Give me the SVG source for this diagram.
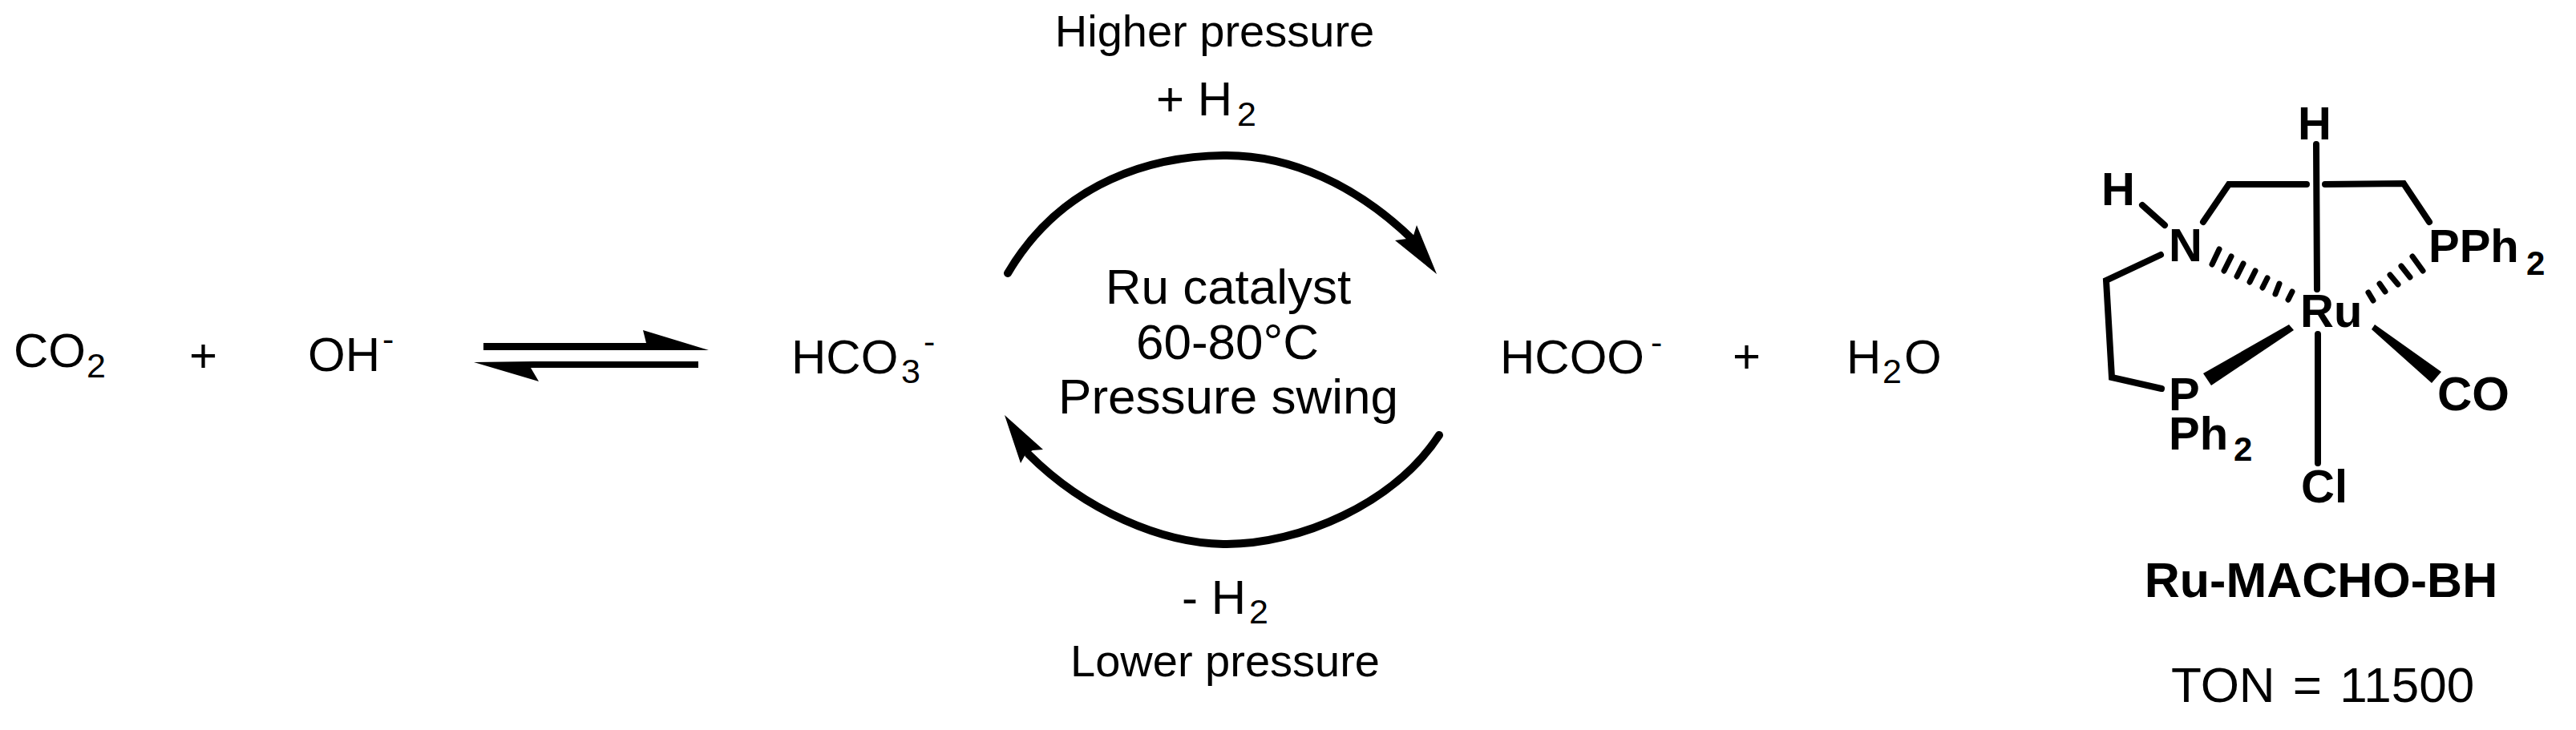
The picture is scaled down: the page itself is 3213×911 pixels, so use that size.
<svg xmlns="http://www.w3.org/2000/svg" width="3213" height="911" viewBox="0 0 3213 911">
<style>
text{font-family:"Liberation Sans",Arial,sans-serif;fill:#000;font-size:60px}
.b{font-weight:700;font-size:58px}
.s{font-size:43px}
.bs{font-weight:700;font-size:42px}
.c{text-anchor:middle}
.m{font-size:62px}
.bond{fill:none;stroke:#000;stroke-width:8;stroke-linecap:round;stroke-linejoin:miter}
.hash{fill:none;stroke:#000;stroke-width:7;stroke-linecap:round}
.arc{fill:none;stroke:#000;stroke-width:10;stroke-linecap:round}
</style>
<rect width="3213" height="911" fill="#fff"/>
<g id="connectors">
<g id="equilibrium">
<polygon points="603,428 806,428 802,412 884,437 603,437"/>
<polygon points="871,451 665,451 591,452 672,476 662,459 871,459"/>
</g>
<path class="arc" d="M1257 341C1325 225 1440 194 1530 194C1610 194 1692 231 1762 299"/>
<polygon points="1792,342 1767,281 1762,297 1740,300"/>
<path class="arc" d="M1795 543C1738 630 1620 679 1530 679C1450 679 1353 637 1283 567"/>
<polygon points="1253,518 1301,561 1288,562 1279,567 1273,578"/>
</g>
<g id="co2"><text x="17" y="458">CO</text><text class="s" x="108" y="471">2</text></g>
<g id="plus1"><text x="236" y="464">+</text></g>
<g id="oh"><text x="384" y="463">OH</text><text class="s" x="477" y="438">-</text></g>
<g id="hco3"><text x="987" y="466">HCO</text><text class="s" x="1124" y="478">3</text><text class="s" x="1152" y="441">-</text></g>
<g id="conditions">
<text class="c m" x="1532" y="379">Ru catalyst</text>
<text class="c m" x="1531" y="448">60-80°C</text>
<text class="c m" x="1532" y="516">Pressure swing</text>
</g>
<g id="higher"><text class="c" x="1515" y="58" style="font-size:56px">Higher pressure</text></g>
<g id="plus-h2"><text x="1442" y="144">+ H</text><text class="s" x="1543" y="157">2</text></g>
<g id="minus-h2"><text x="1474" y="766">- H</text><text class="s" x="1558" y="778">2</text></g>
<g id="lower"><text class="c" x="1528" y="844" style="font-size:56px">Lower pressure</text></g>
<g id="hcoo"><text x="1871" y="466">HCOO</text><text class="s" x="2059" y="442">-</text></g>
<g id="plus2"><text x="2161" y="465">+</text></g>
<g id="h2o"><text x="2303" y="466">H</text><text class="s" x="2348" y="478">2</text><text x="2375" y="466">O</text></g>
<g id="ru-macho-bh">
<path class="bond" d="M2889 180L2890 361M2891 417V578M2748 277L2780 230L2877 230M2900 230L2998 229L3030 277M2672 256L2700 281M2695 318L2627 350L2634 471L2696 485"/>
<polygon points="2855,405 2861,412 2758,481 2748,466"/>
<polygon points="2962,405 2958,411 3033,478 3045,464"/>
<path class="hash" d="M2768 311L2759 330M2783 320L2774 338M2798 329L2790 345M2813 338L2806 352M2828 347L2822 359M2843 354L2838 367M2859 364L2854 374"/>
<path class="hash" d="M3009 320L3022 338M2995 332L3006 346M2981 343L2991 355M2968 354L2975 364M2954 365L2960 375"/>
<g id="ligand-labels">
<text class="b" x="2866" y="174">H</text>
<text class="b" x="2621" y="256">H</text>
<text class="b" x="2705" y="326">N</text>
<text class="b" x="3029" y="327">PPh</text><text class="bs" x="3151" y="343">2</text>
<text class="b" x="2869" y="408">Ru</text>
<text class="b" x="3040" y="512" style="font-size:60px">CO</text>
<text class="b" x="2705" y="512">P</text>
<text class="b" x="2705" y="561">Ph</text><text class="bs" x="2786" y="575">2</text>
<text class="b" x="2870" y="627">Cl</text>
</g>
<text x="2895" y="745" class="c" style="font-weight:700;font-size:61px">Ru-MACHO-BH</text>
<text x="2897" y="876" class="c" style="font-size:62px;word-spacing:5px">TON = 11500</text>
</g>
</svg>
